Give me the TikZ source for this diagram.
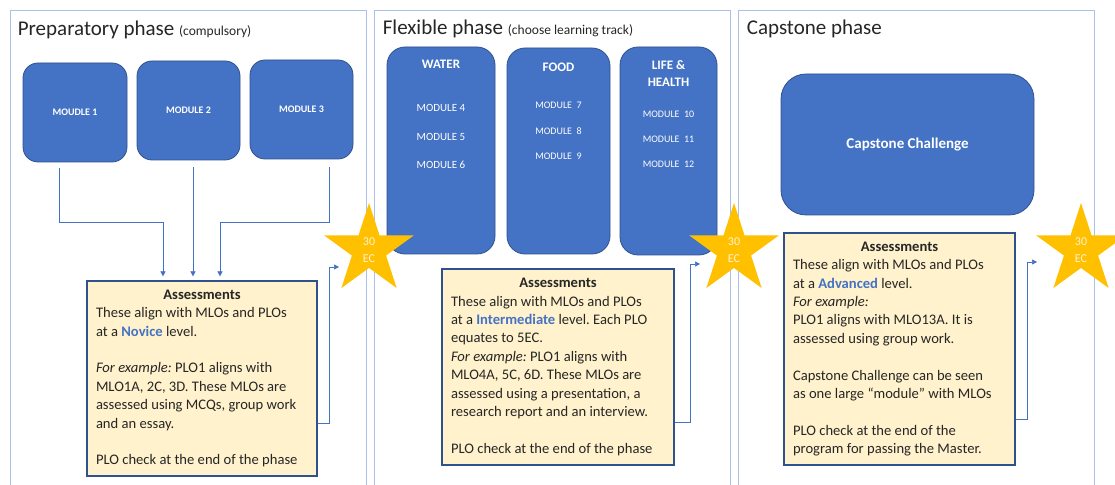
\documentclass[tikz,border=0pt]{standalone}
\usepackage{fontspec}
\setmainfont{Carlito}
\usepackage{xcolor}
\usetikzlibrary{positioning,arrows.meta,shapes.geometric}
\definecolor{modblue}{HTML}{4472C4}
\definecolor{modedge}{HTML}{2F528F}
\definecolor{frameblue}{HTML}{A9C1E8}
\definecolor{assfill}{HTML}{FFF2CC}
\definecolor{staryellow}{HTML}{FFC000}
\definecolor{startext}{HTML}{FFF2D6}
\definecolor{keyblue}{HTML}{4472C4}
\newcommand{\lvl}[1]{\textcolor{keyblue}{\textbf{#1}}}
\newcommand{\asshead}[1]{\makebox[#1]{\textbf{Assessments}}}
\frenchspacing

\begin{document}
\begin{tikzpicture}[x=1pt, y=1pt,
  phase/.style={draw=frameblue, line width=0.8pt, minimum width=356pt, minimum height=504pt, inner sep=0pt},
  phasetitle/.style={anchor=base west, inner sep=0pt, font=\fontsize{21}{25}\selectfont, text=black!85},
  module/.style={draw=modedge, line width=0.8pt, fill=modblue, rounded corners=15pt, inner sep=0pt,
                 text=white, align=center},
  modtxt/.style={text=white, inner sep=0pt, align=center},
  assess/.style={draw=modedge, line width=1.2pt, fill=assfill, inner xsep=9pt, inner ysep=0pt,
                 align=left, font=\fontsize{14.6}{18.4}\selectfont, text=black!85},
  burst/.style={star, star points=5, star point ratio=2.618, minimum size=94pt, inner sep=0pt,
                fill=staryellow, text=startext, align=center, font=\fontsize{12}{17}\selectfont},
  conn/.style={draw=modblue, line width=0.7pt, -{Triangle[length=5pt,width=5pt]}},
]
\clip (0,0) rectangle (1115,484);
\fill[white] (0,0) rectangle (1115,484);

% phase frames
\node[phase] (prep) at (188,222) {};
\node[phase] (flex) at (552,222) {};
\node[phase] (caps) at (916,222) {};
\node[phasetitle] (preptitle) at ([xshift=8pt,yshift=-26pt]prep.north west)
  {Preparatory phase {\fontsize{13.5}{16}\selectfont(compulsory)}};
\node[phasetitle] (flextitle) at ([xshift=9pt,yshift=-25pt]flex.north west)
  {Flexible phase {\fontsize{13.5}{16}\selectfont(choose learning track)}};
\node[phasetitle] (capstitle) at ([xshift=9pt,yshift=-25pt]caps.north west) {Capstone phase};

% preparatory modules
\node[module, minimum width=104pt, minimum height=99pt, font=\bfseries\fontsize{10}{12}\selectfont]
  (m1) at (75,371.5) {MOUDLE 1};
\node[module, minimum width=103pt, minimum height=99pt, font=\bfseries\fontsize{10}{12}\selectfont]
  (m2) at (188.5,373.5) {MODULE 2};
\node[module, minimum width=103pt, minimum height=99pt, font=\bfseries\fontsize{10}{12}\selectfont]
  (m3) at (301.5,374.5) {MODULE 3};

% learning tracks
\node[module, rounded corners=18pt, minimum width=108pt, minimum height=207pt] (water) at (441,333.5) {};
\node[modtxt, font=\bfseries\fontsize{13}{16}\selectfont] (watert) at ([yshift=-18pt]water.north) {WATER};
\node[modtxt, font=\fontsize{11}{13}\selectfont] (m4) at ([yshift=-61pt]water.north) {MODULE 4};
\node[modtxt, font=\fontsize{11}{13}\selectfont] (m5) at ([yshift=-90pt]water.north) {MODULE 5};
\node[modtxt, font=\fontsize{11}{13}\selectfont] (m6) at ([yshift=-118pt]water.north) {MODULE 6};

\node[module, rounded corners=18pt, minimum width=103pt, minimum height=206pt] (food) at (558.5,333) {};
\node[modtxt, font=\bfseries\fontsize{13}{16}\selectfont] (foodt) at ([yshift=-20pt]food.north) {FOOD};
\node[modtxt, font=\fontsize{10}{12}\selectfont] (m7) at ([yshift=-58pt]food.north) {MODULE\ \ 7};
\node[modtxt, font=\fontsize{10}{12}\selectfont] (m8) at ([yshift=-84pt]food.north) {MODULE\ \ 8};
\node[modtxt, font=\fontsize{10}{12}\selectfont] (m9) at ([yshift=-109pt]food.north) {MODULE\ \ 9};

\node[module, rounded corners=18pt, minimum width=97pt, minimum height=208pt] (life) at (668.5,333) {};
\node[modtxt, font=\bfseries\fontsize{13}{17}\selectfont] (lifet) at ([yshift=-26.5pt]life.north) {LIFE \&\\HEALTH};
\node[modtxt, font=\fontsize{10}{12}\selectfont] (m10) at ([yshift=-68pt]life.north) {MODULE\ \ 10};
\node[modtxt, font=\fontsize{10}{12}\selectfont] (m11) at ([yshift=-93pt]life.north) {MODULE\ \ 11};
\node[modtxt, font=\fontsize{10}{12}\selectfont] (m12) at ([yshift=-118pt]life.north) {MODULE\ \ 12};

% capstone
\node[module, rounded corners=25pt, minimum width=253pt, minimum height=141pt,
      font=\bfseries\fontsize{15}{18}\selectfont] (chal) at (907.5,339.5) {Capstone Challenge};

% assessments
\node[assess, minimum width=230pt, minimum height=195pt] (ass1) at (202,105.5) {\asshead{212pt}\\
  These align with MLOs and PLOs\\
  at a \lvl{Novice} level.\\[18.4pt]
  \textit{For example:} PLO1 aligns with\\
  MLO1A, 2C, 3D. These MLOs are\\
  assessed using MCQs, group work\\
  and an essay.\\[18.4pt]
  PLO check at the end of the phase};
\node[assess, minimum width=232pt, minimum height=196pt] (ass2) at (558,117) {\asshead{214pt}\\
  These align with MLOs and PLOs\\
  at a \lvl{Intermediate} level. Each PLO\\
  equates to 5EC.\\
  \textit{For example:} PLO1 aligns with\\
  MLO4A, 5C, 6D. These MLOs are\\
  assessed using a presentation, a\\
  research report and an interview.\\[18.4pt]
  PLO check at the end of the phase};
\node[assess, minimum width=231pt, minimum height=232pt] (ass3) at (899.5,135) {\asshead{213pt}\\
  These align with MLOs and PLOs\\
  at a \lvl{Advanced} level.\\
  \textit{For example:}\\
  PLO1 aligns with MLO13A. It is\\
  assessed using group work.\\[18.4pt]
  Capstone Challenge can be seen\\
  as one large “module” with MLOs\\[18.4pt]
  PLO check at the end of the\\
  program for passing the Master.};

% credit stars
\node[burst] (star1) at (369,234) {30\\EC};
\node[burst] (star2) at (734,234) {30\\EC};
\node[burst] (star3) at (1081,234) {30\\EC};

% connectors
\draw[conn] ([xshift=-16pt,yshift=-6pt]m1.south) -- ++(0,-54) -| ([xshift=-39pt,yshift=4pt]ass1.north);
\draw[conn] ([xshift=4.5pt,yshift=-7pt]m2.south) -- ([xshift=-9pt,yshift=4pt]ass1.north);
\draw[conn] ([xshift=27.5pt,yshift=-8pt]m3.south) -- ++(0,-55) -| ([xshift=18pt,yshift=4pt]ass1.north);
\draw[conn] ([yshift=-44.5pt]ass1.east) -- ++(12,0) |- ([xshift=-30pt,yshift=-17pt]star1.center);
\draw[conn] ([yshift=-55pt]ass2.east) -- ++(16,0) |- ([xshift=-34pt,yshift=-14pt]star2.center);
\draw[conn] ([yshift=-70pt]ass3.east) -- ++(12,0) |- ([xshift=-44pt,yshift=-12pt]star3.center);
\end{tikzpicture}
\end{document}
